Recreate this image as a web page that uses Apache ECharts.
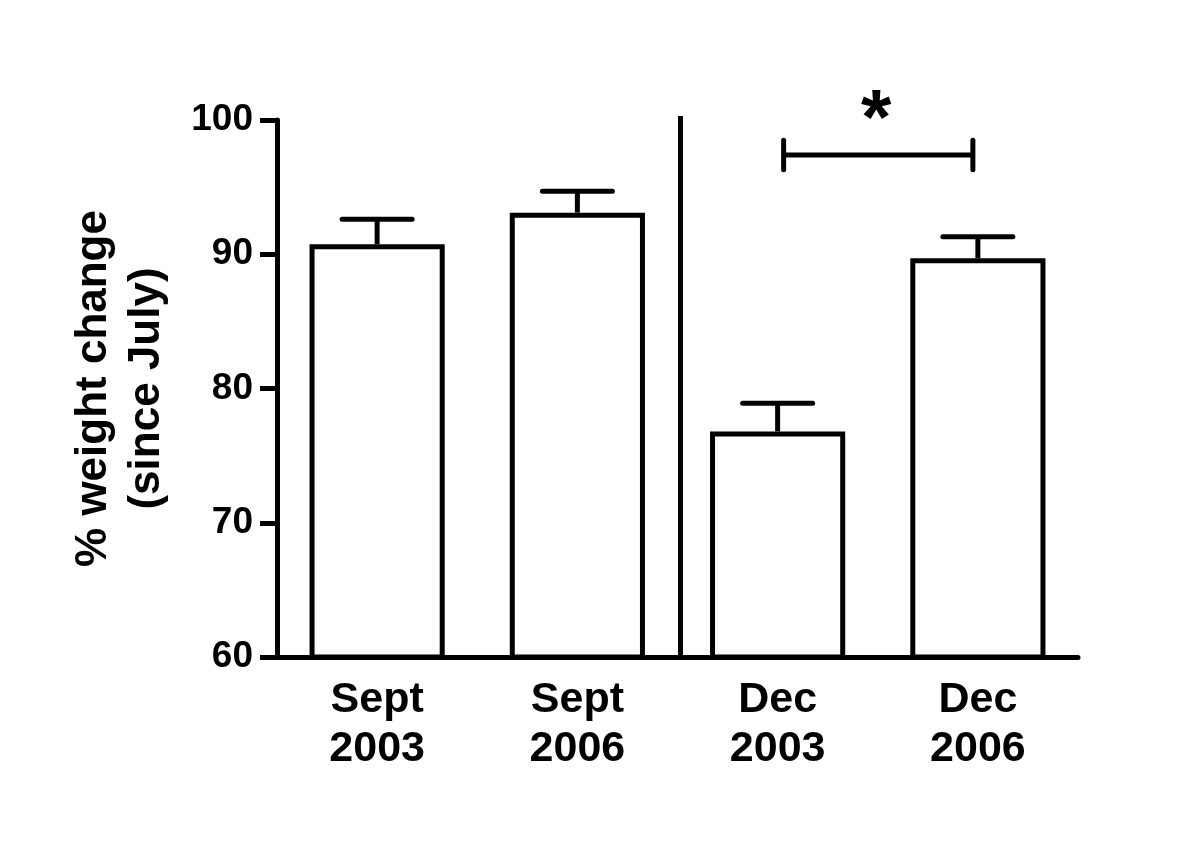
<!DOCTYPE html>
<html>
<head>
<meta charset="utf-8">
<script src="https://cdn.jsdelivr.net/npm/echarts@6/dist/echarts.min.js"></script>
<style>html,body{margin:0;padding:0;background:#fff;}#c{width:1200px;height:858px;}</style>
</head>
<body>
<div id="c"></div>
<script>
const categories = ['Sept\n2003', 'Sept\n2006', 'Dec\n2003', 'Dec\n2006'];
const means = [90.75, 93.1, 76.8, 89.7];
const errUpper = [92.6, 94.7, 78.9, 91.3];
const yTicks = [60, 70, 80, 90, 100];
const yAxisTitle = '% weight change\n(since July)';
const bracketPair = [2, 3];
const bracketValue = 97.4;
const bracketTickLow = 96.3;
const bracketTickHigh = 98.5;
const asteriskValue = 99.85;
const separatorBetween = [1, 2];
const separatorTop = 100.3;

const FONT = 'Liberation Sans, Arial, sans-serif';
const LW = 5;
const chart = echarts.init(document.getElementById('c'));

const errData = categories.map((c, i) => [i, means[i], errUpper[i]]);

chart.setOption({
  animation: false,
  backgroundColor: '#fff',
  grid: { left: 277, right: 122, top: 120, bottom: 201, containLabel: false },
  xAxis: {
    type: 'category',
    data: categories,
    boundaryGap: true,
    axisLine: { lineStyle: { color: '#000', width: LW } },
    axisTick: { alignWithLabel: true, length: 17, lineStyle: { color: '#000', width: LW } },
    axisLabel: { color: '#000', fontFamily: FONT, fontWeight: 'bold', fontSize: 43, lineHeight: 49, margin: 19 },
    splitLine: { show: false }
  },
  yAxis: {
    type: 'value',
    min: yTicks[0],
    max: yTicks[yTicks.length - 1],
    interval: 10,
    axisLine: { show: true, lineStyle: { color: '#000', width: LW } },
    axisTick: { show: true, length: 17, lineStyle: { color: '#000', width: LW } },
    axisLabel: { color: '#000', fontFamily: FONT, fontWeight: 'bold', fontSize: 37, margin: 24 },
    splitLine: { show: false },
    name: yAxisTitle,
    nameLocation: 'middle',
    nameRotate: 90,
    nameGap: 104,
    nameTextStyle: { color: '#000', fontFamily: FONT, fontWeight: 'bold', fontSize: 44, lineHeight: 53, align: 'center' }
  },
  series: [
    {
      type: 'bar',
      data: means,
      barWidth: '67.5%',
      itemStyle: { color: '#fff', borderColor: '#000', borderWidth: LW },
      z: 1
    },
    {
      type: 'custom',
      data: errData,
      z: 2,
      renderItem: function (params, api) {
        const x = api.value(0);
        const base = api.coord([x, api.value(1)]);
        const top = api.coord([x, api.value(2)]);
        const half = 35;
        return {
          type: 'group',
          children: [
            { type: 'line', shape: { x1: base[0], y1: base[1], x2: top[0], y2: top[1] }, style: { stroke: '#000', lineWidth: LW } },
            { type: 'line', shape: { x1: top[0] - half, y1: top[1], x2: top[0] + half, y2: top[1] }, style: { stroke: '#000', lineWidth: LW, lineCap: 'round' } }
          ]
        };
      }
    },
    {
      type: 'custom',
      data: [0],
      z: 3,
      clip: false,
      renderItem: function (params, api) {
        const a = api.coord([separatorBetween[0], 60]);
        const b = api.coord([separatorBetween[1], separatorTop]);
        const sx = (a[0] + b[0]) / 2 + 3;
        const p1 = api.coord([bracketPair[0], bracketValue]);
        const p2 = api.coord([bracketPair[1], bracketValue]);
        const lo = api.coord([bracketPair[0], bracketTickLow])[1];
        const hi = api.coord([bracketPair[0], bracketTickHigh])[1];
        const x1 = p1[0] + 6, x2 = p2[0] - 5;
        const ast = api.coord([bracketPair[0], asteriskValue]);
        return {
          type: 'group',
          children: [
            { type: 'line', shape: { x1: sx, y1: a[1], x2: sx, y2: b[1] }, style: { stroke: '#000', lineWidth: LW } },
            { type: 'line', shape: { x1: x1, y1: p1[1], x2: x2, y2: p2[1] }, style: { stroke: '#000', lineWidth: LW } },
            { type: 'line', shape: { x1: x1, y1: lo, x2: x1, y2: hi }, style: { stroke: '#000', lineWidth: LW, lineCap: 'round' } },
            { type: 'line', shape: { x1: x2, y1: lo, x2: x2, y2: hi }, style: { stroke: '#000', lineWidth: LW, lineCap: 'round' } },
            { type: 'text', style: { x: (x1 + x2) / 2 - 2, y: ast[1], text: '*', fill: '#000', font: 'bold 78px ' + FONT, align: 'center', verticalAlign: 'middle' } }
          ]
        };
      }
    }
  ]
});
</script>
</body>
</html>
